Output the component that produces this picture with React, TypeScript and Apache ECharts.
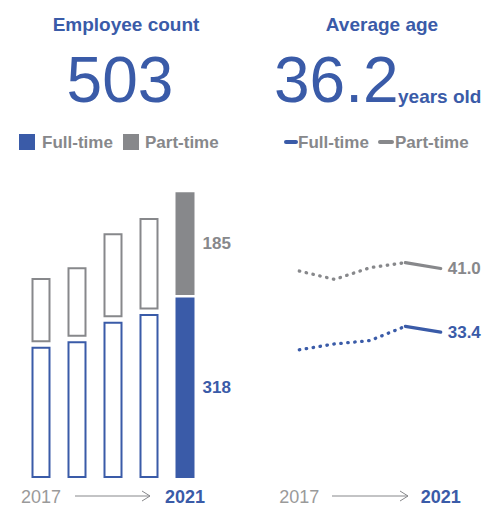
import React, { useEffect, useRef } from "react";
import * as echarts from "echarts";

const years = ["2017", "2018", "2019", "2020", "2021"];
const fullTime = [231, 241, 275, 289, 318];
const partTime = [121, 130, 156, 169, 185];
const fullTimeAge = [31.3, 32.0, 32.4, 34.1, 33.4];
const partTimeAge = [40.7, 39.7, 41.1, 41.7, 41.0];
const totalEmployees = "503";
const averageAge = "36.2";

const BLUE = "#3a5ba8";
const GRAY = "#87888b";
const LIGHT = "#9a9a9a";
const FONT = "'Liberation Sans', Arial, Helvetica, sans-serif";

const last = years.length - 1;

export default function App() {
  const ref = useRef<HTMLDivElement>(null);
  useEffect(() => {
    document.body.style.margin = "0";
    const chart = echarts.init(ref.current!, undefined, { renderer: "svg" });

    const dotted = (arr: number[]) => arr.map((v, i) => (i <= last - 1 ? v : null));
    const solid = (arr: number[]) => arr.map((v, i) => (i >= last - 1 ? v : null));

    const axisLabel = {
      interval: 0,
      margin: 10,
      formatter: (v: string, i: number) =>
        i === 0 ? "{a|" + v + "}" : i === last ? "{b|" + v + "}" : "",
      rich: {
        a: { fontFamily: FONT, fontSize: 18, color: LIGHT },
        b: { fontFamily: FONT, fontSize: 18, fontWeight: "bold", color: BLUE },
      },
    };

    const arrow = (x1: number, x2: number, y: number) => [
      { type: "line", shape: { x1, y1: y, x2, y2: y }, style: { stroke: GRAY, lineWidth: 1 } },
      {
        type: "polyline",
        shape: { points: [[x2 - 8, y - 5], [x2, y], [x2 - 8, y + 5]] },
        style: { stroke: GRAY, lineWidth: 1, fill: "none" },
      },
    ];

    const txt = (x: number, y: number, text: string, fontSize: number, color: string, bold: boolean, align = "left") => ({
      type: "text",
      x,
      y,
      style: {
        text,
        fontSize,
        fontFamily: FONT,
        fontWeight: bold ? "bold" : "normal",
        fill: color,
        align,
        verticalAlign: "middle",
      },
    });

    chart.setOption({
      animation: false,
      title: [
        {
          text: "Employee count",
          left: 121,
          top: 10,
          textAlign: "center",
          textStyle: { fontFamily: FONT, fontSize: 19, fontWeight: "bold", color: BLUE },
        },
        {
          text: "Average age",
          left: 377,
          top: 10,
          textAlign: "center",
          textStyle: { fontFamily: FONT, fontSize: 19, fontWeight: "bold", color: BLUE },
        },
      ],
      grid: [
        { left: 23, width: 180, top: 160, bottom: 30 },
        { left: 281.6, width: 176.8, top: 235, bottom: 30 },
      ],
      xAxis: [
        {
          type: "category",
          gridIndex: 0,
          data: years,
          axisLine: { show: false },
          axisTick: { show: false },
          axisLabel,
        },
        {
          type: "category",
          gridIndex: 1,
          data: years,
          axisLine: { show: false },
          axisTick: { show: false },
          axisLabel,
        },
      ],
      yAxis: [
        { type: "value", gridIndex: 0, min: 0, max: 560, show: false },
        { type: "value", gridIndex: 1, min: 16, max: 45, show: false },
      ],
      series: [
        {
          type: "custom",
          xAxisIndex: 0,
          yAxisIndex: 0,
          data: years.map((_, i) => [i, fullTime[i], partTime[i]]),
          encode: { x: 0, y: [1, 2] },
          renderItem: (params: any, api: any) => {
            const i = api.value(0);
            const ft = api.value(1);
            const pt = api.value(2);
            const base = api.coord([i, 0]);
            const ftTop = api.coord([i, ft]);
            const top = api.coord([i, ft + pt]);
            const w = 19;
            const x = base[0] - w / 2;
            if (i === last) {
              const gap = 2.5;
              return {
                type: "group",
                children: [
                  {
                    type: "rect",
                    shape: { x, y: ftTop[1], width: w, height: base[1] - ftTop[1] },
                    style: { fill: BLUE },
                  },
                  {
                    type: "rect",
                    shape: { x, y: top[1], width: w, height: ftTop[1] - gap - top[1] },
                    style: { fill: GRAY },
                  },
                  {
                    type: "text",
                    x: x + w + 8,
                    y: (ftTop[1] + base[1]) / 2,
                    style: {
                      text: String(ft),
                      fontFamily: FONT,
                      fontSize: 17,
                      fontWeight: "bold",
                      fill: BLUE,
                      verticalAlign: "middle",
                    },
                  },
                  {
                    type: "text",
                    x: x + w + 8,
                    y: (top[1] + ftTop[1] - gap) / 2,
                    style: {
                      text: String(pt),
                      fontFamily: FONT,
                      fontSize: 17,
                      fontWeight: "bold",
                      fill: GRAY,
                      verticalAlign: "middle",
                    },
                  },
                ],
              };
            }
            const lw = 2;
            const gap = 4.5;
            return {
              type: "group",
              children: [
                {
                  type: "rect",
                  shape: { x: x + lw / 2, y: ftTop[1] + lw / 2, width: w - lw, height: base[1] - ftTop[1] - lw },
                  style: { fill: "#fff", stroke: BLUE, lineWidth: lw },
                },
                {
                  type: "rect",
                  shape: { x: x + lw / 2, y: top[1] + lw / 2, width: w - lw, height: ftTop[1] - gap - top[1] - lw },
                  style: { fill: "#fff", stroke: GRAY, lineWidth: lw },
                },
              ],
            };
          },
        },
        {
          type: "line",
          xAxisIndex: 1,
          yAxisIndex: 1,
          data: dotted(partTimeAge),
          showSymbol: false,
          lineStyle: { color: GRAY, width: 3.3, type: [0.5, 6.5], cap: "round" },
        },
        {
          type: "line",
          xAxisIndex: 1,
          yAxisIndex: 1,
          data: solid(partTimeAge),
          showSymbol: false,
          lineStyle: { color: GRAY, width: 3.2, cap: "round" },
          endLabel: {
            show: true,
            distance: 7,
            formatter: (p: any) => Number(p.value).toFixed(1),
            fontFamily: FONT,
            fontSize: 17,
            fontWeight: "bold",
            color: GRAY,
          },
        },
        {
          type: "line",
          xAxisIndex: 1,
          yAxisIndex: 1,
          data: dotted(fullTimeAge),
          showSymbol: false,
          lineStyle: { color: BLUE, width: 3.3, type: [0.5, 6.5], cap: "round" },
        },
        {
          type: "line",
          xAxisIndex: 1,
          yAxisIndex: 1,
          data: solid(fullTimeAge),
          showSymbol: false,
          lineStyle: { color: BLUE, width: 3.2, cap: "round" },
          endLabel: {
            show: true,
            distance: 7,
            formatter: (p: any) => Number(p.value).toFixed(1),
            fontFamily: FONT,
            fontSize: 17,
            fontWeight: "bold",
            color: BLUE,
          },
        },
      ],
      graphic: [
        txt(120, 80, totalEmployees, 64, BLUE, false, "center"),
        txt(274, 80, averageAge, 64, BLUE, false, "left"),
        txt(398, 96, "years old", 19, BLUE, true, "left"),
        { type: "rect", shape: { x: 19, y: 134, width: 16, height: 16 }, style: { fill: BLUE } },
        txt(42, 142, "Full-time", 17, GRAY, true),
        { type: "rect", shape: { x: 123, y: 134, width: 16, height: 16 }, style: { fill: GRAY } },
        txt(145, 142, "Part-time", 17, GRAY, true),
        { type: "line", shape: { x1: 286, y1: 142, x2: 296, y2: 142 }, style: { stroke: BLUE, lineWidth: 4, lineCap: "round" } },
        txt(298, 142, "Full-time", 17, GRAY, true),
        { type: "line", shape: { x1: 380, y1: 142, x2: 392, y2: 142 }, style: { stroke: GRAY, lineWidth: 4, lineCap: "round" } },
        txt(395, 142, "Part-time", 17, GRAY, true),
        ...arrow(75, 150, 496),
        ...arrow(332, 408, 496),
      ],
    });
    return () => chart.dispose();
  }, []);
  return <div ref={ref} style={{ width: 487, height: 508 }} />;
}
